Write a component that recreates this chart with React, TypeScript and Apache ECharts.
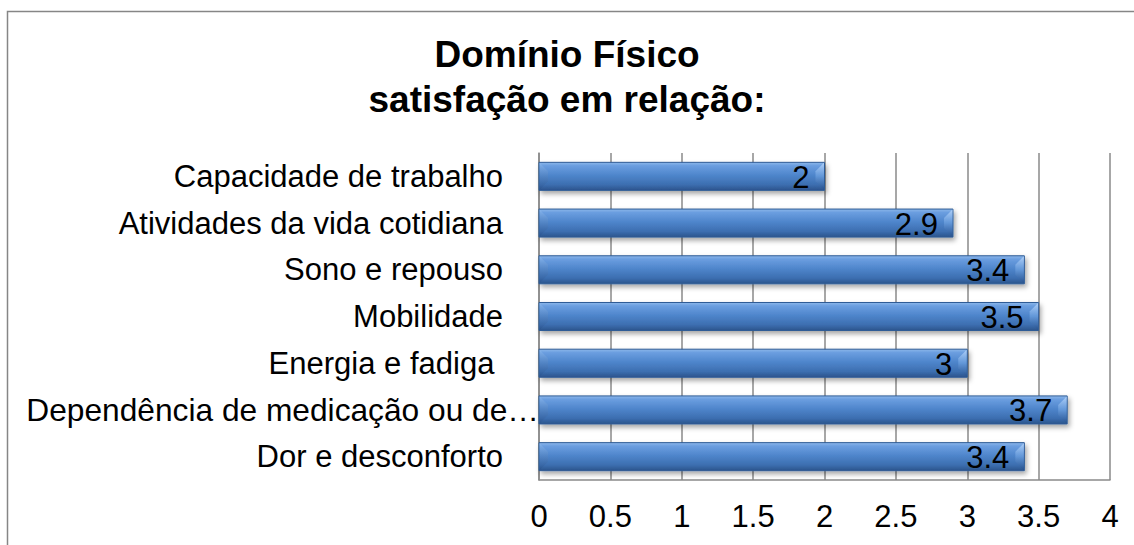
import React, { useEffect, useRef } from "react";
import * as echarts from "echarts";

const TITLE = "Domínio Físico\nsatisfação em relação:";
const categories = [
  "Capacidade de trabalho",
  "Atividades da vida cotidiana",
  "Sono e repouso",
  "Mobilidade",
  "Energia e fadiga ",
  "Dependência de medicação ou de tratamentos",
  "Dor e desconforto",
];
const values = [2, 2.9, 3.4, 3.5, 3, 3.7, 3.4];
const xMin = 0;
const xMax = 4;
const xStep = 0.5;

const FONT = "'Liberation Sans', Arial, Helvetica, sans-serif";
const GRID_COLOR = "#8a8a8a";
const FS = 31;

export default function App() {
  const ref = useRef<HTMLDivElement>(null);
  useEffect(() => {
    if (!ref.current) return;
    const chart = echarts.init(ref.current, null, { renderer: "svg" });
    const option: any = {
      animation: false,
      backgroundColor: "#ffffff",
      textStyle: { fontFamily: FONT },
      title: {
        text: TITLE,
        left: "center",
        top: 27,
        textStyle: {
          fontFamily: FONT,
          fontSize: 37,
          fontWeight: "bold",
          color: "#000",
          lineHeight: 45,
        },
      },
      graphic: [
        {
          type: "rect",
          silent: true,
          z: 0,
          shape: { x: 7.5, y: 11.5, width: 1300, height: 700 },
          style: { fill: "none", stroke: "#868686", lineWidth: 1.5 },
        },
      ],
      grid: { left: 539, right: 24, top: 153, bottom: 65, containLabel: false },
      xAxis: {
        type: "value",
        min: xMin,
        max: xMax,
        interval: xStep,
        axisLine: { show: true, lineStyle: { color: GRID_COLOR, width: 1.5 } },
        axisTick: { show: false },
        splitLine: { show: true, lineStyle: { color: GRID_COLOR, width: 1.5 } },
        axisLabel: {
          fontFamily: FONT,
          fontSize: FS,
          color: "#000",
          margin: 21,
        },
      },
      yAxis: {
        type: "category",
        data: categories,
        inverse: true,
        axisLine: { show: true, lineStyle: { color: GRID_COLOR, width: 1.5 } },
        axisTick: { show: false },
        splitLine: { show: false },
        axisLabel: {
          fontFamily: FONT,
          fontSize: FS,
          color: "#000",
          margin: 36,
          formatter: (v: string) =>
            v.length > 31 ? "{long|" + v.slice(0, 30) + "…}" : v,
          rich: {
            long: {
              fontFamily: FONT,
              fontSize: 31.7,
              color: "#000",
              padding: [0, -36, 0, 0],
            },
          },
        },
      },
      series: [
        {
          type: "custom",
          encode: { x: 0, y: 1 },
          data: values.map((v, i) => [v, i]),
          renderItem: (params: any, api: any) => {
            const val = api.value(0);
            const idx = api.value(1);
            const start = api.coord([0, idx]);
            const end = api.coord([val, idx]);
            const band = api.size([0, 1])[1];
            const h = band * 0.6;
            const x0 = start[0];
            const x1 = end[0];
            const y0 = start[1] - h / 2;
            const y1 = y0 + h;
            const b = 9;
            const mainGrad = new echarts.graphic.LinearGradient(0, 0, 0, 1, [
              { offset: 0, color: "#8db8ea" },
              { offset: 0.12, color: "#6b9ee0" },
              { offset: 0.45, color: "#4f86cc" },
              { offset: 0.8, color: "#3c6eb0" },
              { offset: 1, color: "#2b548c" },
            ]);
            return {
              type: "group",
              children: [
                {
                  type: "rect",
                  shape: { x: x0, y: y0, width: x1 - x0, height: h },
                  style: {
                    fill: mainGrad,
                    stroke: "#2f5c96",
                    lineWidth: 1,
                    shadowColor: "rgba(0,0,0,0.35)",
                    shadowBlur: 5,
                    shadowOffsetX: 2,
                    shadowOffsetY: 3,
                  },
                },
                {
                  type: "polygon",
                  shape: {
                    points: [
                      [x0 + 0.5, y0 + 0.5],
                      [x0 + b, y0 + b],
                      [x0 + b, y1 - b],
                      [x0 + 0.5, y1 - 0.5],
                    ],
                  },
                  style: {
                    fill: new echarts.graphic.LinearGradient(0, 0, 0, 1, [
                      { offset: 0, color: "rgba(150,195,245,0.5)" },
                      { offset: 1, color: "rgba(30,70,130,0.3)" },
                    ]),
                  },
                },
                {
                  type: "polygon",
                  shape: {
                    points: [
                      [x1 - 0.5, y0 + 0.5],
                      [x1 - b, y0 + b],
                      [x1 - b, y1 - b],
                      [x1 - 0.5, y1 - 0.5],
                    ],
                  },
                  style: {
                    fill: new echarts.graphic.LinearGradient(0, 0, 0, 1, [
                      { offset: 0, color: "rgba(200,225,255,0.7)" },
                      { offset: 0.5, color: "rgba(120,170,230,0.5)" },
                      { offset: 1, color: "rgba(30,70,130,0.35)" },
                    ]),
                  },
                },
                {
                  type: "text",
                  style: {
                    text: String(val),
                    x: x1 - 15,
                    y: (y0 + y1) / 2 + 1,
                    align: "right",
                    verticalAlign: "middle",
                    fontFamily: FONT,
                    fontSize: FS,
                    fill: "#000",
                  },
                },
              ],
            };
          },
        },
      ],
    };
    chart.setOption(option);
    return () => chart.dispose();
  }, []);
  return (
    <div
      ref={ref}
      style={{ position: "absolute", left: 0, top: 0, width: 1134, height: 545 }}
    />
  );
}
